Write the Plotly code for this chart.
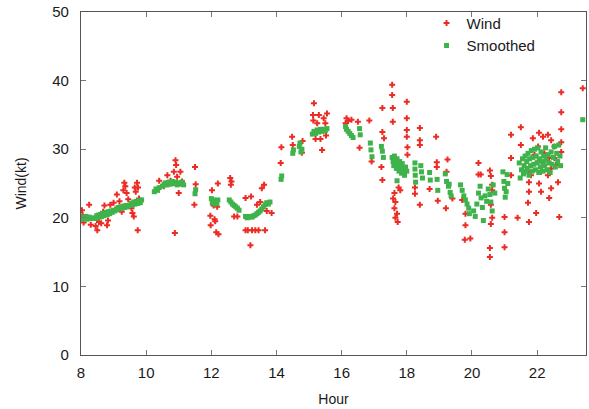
import plotly.graph_objects as go

# ---- Wind (raw) observations: hour, knots ----
wind_hour = [
    8.03, 8.05, 8.08, 8.25, 8.30, 8.45, 8.50, 8.55, 8.62, 8.68, 8.72, 8.80, 8.83, 8.90,
    9.00, 9.05, 9.10, 9.18, 9.25, 9.30, 9.33, 9.36, 9.40, 9.45, 9.55, 9.58, 9.62, 9.65,
    9.68, 9.72, 9.75, 9.74, 9.78,
    10.40, 10.55, 10.65, 10.75, 10.85, 10.90, 10.92, 10.95, 11.00, 10.88, 11.05, 11.10,
    11.50, 11.52, 11.48,
    11.97, 11.98, 12.02, 12.05, 12.07, 12.10, 12.12, 12.15, 12.20, 12.22, 12.18,
    12.58, 12.60, 12.62, 12.70, 12.80,
    13.05, 13.05, 13.12, 13.20, 13.22, 13.25, 13.35, 13.40, 13.45, 13.50, 13.55, 13.62,
    13.65, 13.70, 13.85,
    14.13, 14.15, 14.48, 14.50, 14.78, 14.80,
    15.12, 15.15, 15.13, 15.20, 15.25, 15.30, 15.35, 15.40, 15.45, 15.50, 15.55, 15.52,
    16.12, 16.15, 16.20, 16.30, 16.50, 16.55, 16.85, 16.92,
    17.25, 17.25, 17.22, 17.25, 17.30,
    17.55, 17.55, 17.57, 17.57, 17.62, 17.65, 17.62, 17.70, 17.72, 17.75, 17.80, 17.65, 17.58,
    18.00, 18.00, 18.00, 18.00, 18.02, 18.02,
    18.25, 18.25, 18.40, 18.40, 18.40, 18.40,
    18.90, 18.92, 18.92, 18.70, 18.95,
    19.25, 19.22, 19.20, 19.40,
    19.70, 19.80, 19.80, 19.78, 19.95,
    20.20, 20.20, 20.27, 20.55, 20.58, 20.62, 20.62, 20.58, 20.62, 20.58, 20.55, 20.55,
    21.00, 21.00, 21.00, 21.20, 21.20, 21.20,
    21.40, 21.50, 21.50,
    21.87, 22.06, 22.18, 22.33, 22.43, 22.03, 22.22, 22.53, 22.74, 22.74, 22.37, 22.74,
    22.74, 22.74,
    21.75, 21.75, 22.06, 22.12, 22.43, 22.64, 22.37, 21.72, 21.75, 21.97, 22.68,
    21.92, 22.02, 22.22, 22.43, 21.71, 22.12, 22.53, 21.81, 22.33, 22.58,
    23.40,
]
wind_kt = [
    21.1, 20.4, 19.3, 21.9, 19.0, 18.8, 18.2, 19.4, 19.2, 20.9, 21.8, 18.9, 19.6, 21.9,
    22.2, 21.2, 23.4, 22.4, 20.9, 24.0, 25.1, 24.6, 23.6, 22.7, 21.4, 20.7, 20.2, 24.4,
    23.8, 25.1, 24.4, 18.2, 22.8,
    25.4, 24.6, 26.2, 25.4, 26.7, 28.4, 27.7, 26.0, 23.6, 17.8, 26.7, 25.3,
    27.4, 24.9, 21.9,
    20.3, 18.9, 24.0, 22.0, 21.8, 19.8, 19.5, 17.9, 25.0, 17.6, 21.6,
    25.8, 24.8, 25.3, 20.2, 20.2,
    22.9, 18.2, 18.2, 16.0, 23.1, 18.2, 18.2, 21.9, 18.2, 22.3, 24.3, 24.8,
    18.2, 21.0, 20.7,
    28.0, 30.3, 31.8, 30.6, 29.5, 31.2,
    35.0, 36.7, 34.2, 31.5, 33.8, 35.0, 31.5, 29.9, 34.5, 33.8, 35.2, 32.0,
    33.8, 34.5, 34.1, 34.3, 34.0, 30.2, 34.2, 28.2,
    36.0, 32.5, 27.4, 25.5, 31.6,
    39.4, 37.9, 36.0, 34.0, 23.6, 22.3, 21.4, 20.6, 19.4, 24.4, 24.0, 20.0, 22.8,
    36.9, 34.5, 32.8, 31.8, 30.3, 29.2,
    24.4, 23.5, 33.1, 31.3, 30.6, 21.9,
    31.8, 28.1, 27.4, 24.2, 22.5,
    28.5, 26.7, 21.4, 22.8,
    22.6, 20.6, 18.9, 16.8, 17.0,
    28.0, 26.3, 26.3, 26.9, 26.1, 24.8, 24.0, 21.9, 20.0, 19.1, 15.6, 14.3,
    20.1, 17.9, 15.7, 32.1, 28.7, 26.2,
    20.0, 33.2, 30.6,
    31.6, 32.4, 31.8, 32.1, 31.3, 30.4, 29.4, 30.4, 31.0, 29.6, 28.7, 32.9,
    35.4, 38.3,
    25.2, 23.8, 25.0, 23.8, 24.3, 25.2, 22.9, 22.2, 19.4, 20.7, 20.1,
    29.2, 28.2, 27.7, 27.2, 26.7, 26.7, 28.7, 26.2, 26.2, 27.7,
    38.9,
]

# ---- Smoothed series: hour, knots ----
smooth_hour = [
    8.00, 8.03, 8.06, 8.09, 8.12, 8.15, 8.18, 8.21, 8.25, 8.29, 8.33,
    8.45, 8.48, 8.51, 8.54, 8.57, 8.60, 8.63, 8.66, 8.69, 8.72, 8.75, 8.78, 8.81, 8.85,
    8.88, 8.92, 8.96, 9.00, 9.04,
    9.10, 9.14, 9.18, 9.22, 9.26, 9.30, 9.34, 9.38, 9.42,
    9.50, 9.54, 9.58, 9.62, 9.66, 9.70, 9.74, 9.78, 9.82, 9.86,
    10.25, 10.30, 10.35, 10.40,
    10.50, 10.55, 10.60, 10.65, 10.70, 10.75, 10.80, 10.85, 10.90, 10.95, 11.00, 11.05,
    11.10, 11.15,
    11.50, 11.52,
    12.00, 12.03, 12.06, 12.10, 12.13, 12.17, 12.20,
    12.55, 12.60, 12.65, 12.70, 12.75, 12.80, 12.85,
    13.05, 13.10, 13.15, 13.20, 13.25, 13.30, 13.35, 13.40, 13.45, 13.50, 13.55, 13.60,
    13.65, 13.70, 13.75, 13.80,
    14.14, 14.16,
    14.50, 14.52, 14.70, 14.72, 14.75, 14.78,
    15.10, 15.15, 15.20, 15.25, 15.30, 15.35, 15.40, 15.45, 15.50, 15.55,
    16.12, 16.15, 16.20, 16.25, 16.30, 16.35, 16.55, 16.57,
    16.88, 16.90, 16.93,
    17.22, 17.25, 17.28,
    17.55, 17.58, 17.60, 17.62, 17.64, 17.66, 17.68, 17.70, 17.72, 17.74, 17.76, 17.78,
    17.80, 17.82, 17.84, 17.86, 17.88, 17.90, 17.93, 17.96, 18.00, 17.70,
    18.25, 18.25, 18.26, 18.27,
    18.43, 18.45, 18.48,
    18.70, 18.72, 18.93, 18.95,
    19.18, 19.22, 19.28, 19.33, 19.36, 19.30,
    19.65, 19.70, 19.75, 19.80, 19.85, 19.90, 19.92,
    20.05, 20.10, 20.15, 20.20, 20.25, 20.28, 20.32, 20.35, 20.40, 20.45, 20.50, 20.55,
    20.58, 20.62, 20.65, 20.70,
    20.95, 20.98, 21.00, 21.02, 21.08, 21.10, 21.05,
    21.45, 21.48, 21.52, 21.55, 21.58, 21.60, 21.63, 21.66, 21.68, 21.70, 21.72, 21.75,
    21.77, 21.80, 21.82, 21.85, 21.87, 21.90, 21.92, 21.95, 21.97, 22.00, 22.02, 22.05,
    22.07, 22.10, 22.12, 22.15, 22.18, 22.20, 22.23, 22.26, 22.28, 22.31, 22.34, 22.37,
    22.40, 22.43, 22.46, 22.50, 22.53, 22.56, 22.60, 22.63, 22.66, 22.70, 22.72,
    23.40,
]
smooth_kt = [
    20.0, 19.8, 20.1, 19.9, 20.0, 20.2, 19.8, 20.0, 20.1, 19.9, 20.0,
    19.9, 20.3, 20.0, 20.4, 20.1, 20.5, 20.2, 20.6, 20.3, 20.7, 20.4, 20.8, 20.5, 20.9,
    20.6, 21.0, 20.8, 21.1, 21.0,
    21.2, 21.5, 21.3, 21.6, 21.4, 21.7, 21.5, 21.8, 21.6,
    21.8, 22.1, 21.9, 22.3, 22.0, 22.4, 22.1, 22.5, 22.2, 22.6,
    23.8, 24.2, 24.0, 24.4,
    24.6, 24.9, 25.1, 24.8, 25.2, 24.9, 25.3, 25.0, 25.2, 24.8, 25.1, 24.9,
    25.2, 24.8,
    23.5, 24.1,
    22.8, 22.2, 22.6, 22.0, 22.5, 22.1, 22.6,
    22.6, 22.3, 22.0, 21.8, 21.6, 21.4, 21.1,
    20.2, 20.0, 20.1, 20.2, 20.1, 20.3, 20.4, 20.6, 20.8, 21.0, 21.3, 21.6,
    21.9, 22.2, 22.0, 22.3,
    25.6, 26.1,
    29.4, 29.9, 30.4, 30.9, 29.6, 30.0,
    32.2, 32.6, 32.3, 32.8, 32.5, 32.9, 32.6, 32.9, 32.7, 33.0,
    33.3, 32.9, 32.6, 32.3, 32.0, 31.7, 33.0, 32.1,
    30.9, 29.9, 28.9,
    30.4, 29.7, 28.8,
    28.8, 28.2, 27.6, 29.0, 28.4, 27.8, 27.2, 28.6, 28.0, 27.4, 26.8, 28.2,
    27.6, 27.0, 26.5, 27.9, 27.3, 26.7, 26.2, 27.4, 26.8, 25.4,
    28.0, 27.1, 26.2, 25.2,
    27.6, 26.7, 25.8,
    26.6, 25.5, 25.6, 24.0,
    26.4, 25.3, 24.6, 23.7, 23.2, 24.9,
    24.8, 24.0, 23.2, 22.6, 22.0, 21.4, 20.6,
    21.0, 20.2, 22.0, 23.6, 24.6, 22.9, 21.5, 19.6, 23.2, 22.4, 24.2, 23.4,
    22.3, 21.0, 24.8, 23.6,
    26.7, 25.3, 24.3, 23.0, 26.3, 25.0, 23.8,
    28.0, 25.8, 27.0, 28.6, 26.4, 27.6, 29.0, 26.8, 28.2, 27.2, 29.4, 26.2,
    28.6, 27.6, 29.8, 26.8, 28.8, 27.8, 30.0, 27.0, 29.0, 28.0, 30.2, 26.6,
    28.6, 27.4, 29.6, 28.2, 26.8, 29.0, 27.6, 30.2, 28.4, 27.0, 29.2, 28.0,
    26.6, 29.6, 27.8, 28.8, 30.4, 27.4, 29.4, 28.2, 30.6, 29.0, 27.6,
    34.3,
]

x_ticks = [8, 10, 12, 14, 16, 18, 20, 22]
y_ticks = [0, 10, 20, 30, 40, 50]

FONT = "Liberation Sans, Arial, sans-serif"

fig = go.Figure()
fig.add_trace(go.Scatter(
    x=wind_hour, y=wind_kt, mode="markers", name="Wind",
    marker=dict(symbol="cross", size=5, color="#ec2b22", line=dict(width=0)),
))
fig.add_trace(go.Scatter(
    x=smooth_hour, y=smooth_kt, mode="markers", name="Smoothed",
    marker=dict(symbol="square", size=5, color="#3fb34b", line=dict(width=0)),
))

axis_common = dict(
    showgrid=False, zeroline=False, showline=True, linecolor="#555555", linewidth=1.2,
    ticks="inside", ticklen=5, tickcolor="#777777", mirror="allticks",
    tickfont=dict(family=FONT, size=15, color="#1a1a1a"),
)
fig.update_xaxes(range=[8, 23.5], tickvals=x_ticks, ticklabelstandoff=4,
                 title=dict(text="Hour", font=dict(family=FONT, size=14, color="#1a1a1a"), standoff=14),
                 **axis_common)
fig.update_yaxes(range=[0, 50], tickvals=y_ticks, ticklabelstandoff=8,
                 title=dict(text="Wind(kt)", font=dict(family=FONT, size=14, color="#1a1a1a"), standoff=22),
                 **axis_common)

fig.update_layout(
    width=589, height=409,
    margin=dict(l=81, r=3, t=12, b=54),
    plot_bgcolor="white", paper_bgcolor="white",
    legend=dict(x=0.91, y=1.015, xanchor="right", yanchor="top",
                bgcolor="rgba(0,0,0,0)", font=dict(family=FONT, size=15, color="#1a1a1a"),
                tracegroupgap=0, itemsizing="trace"),
)

fig.write_html("out.html")
